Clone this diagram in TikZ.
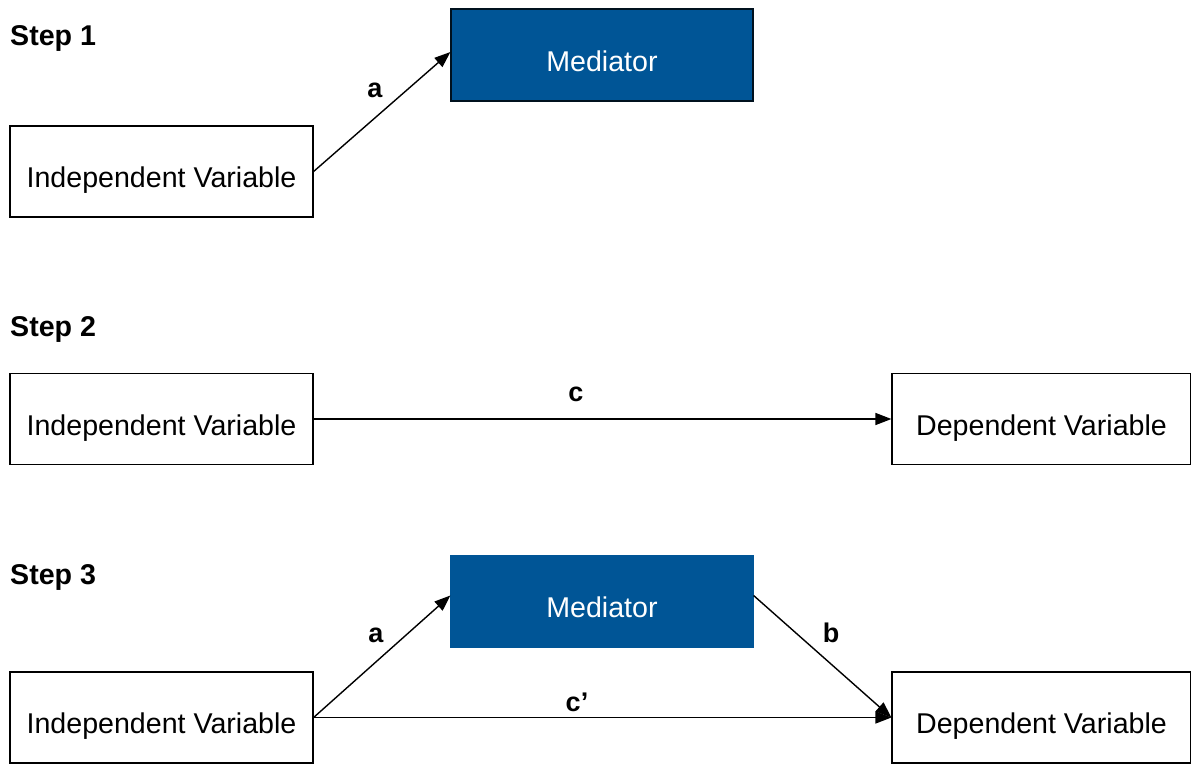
\documentclass[tikz,border=0pt]{standalone}
\usepackage{fontspec}
\setmainfont{Liberation Sans}
\usetikzlibrary{arrows.meta}
\definecolor{medblue}{RGB}{0,85,150}
\begin{document}
\begin{tikzpicture}[x=1pt,y=-1pt,
  varbox/.style={draw=black,line width=1.2pt,fill=white,minimum width=303pt,minimum height=91pt,inner sep=0pt,text height=32pt,text depth=0pt,font=\fontsize{28.6}{32}\selectfont},
  medbox/.style={draw=black!80!medblue,line width=1.2pt,fill=medblue,text=white,minimum width=302pt,minimum height=92pt,inner sep=0pt,text height=32pt,text depth=0pt,font=\fontsize{28.6}{32}\selectfont},
  steplabel/.style={font=\bfseries\fontsize{28.6}{32}\selectfont,anchor=base west,inner sep=0pt},
  pathlabel/.style={font=\bfseries\fontsize{27}{30}\selectfont,inner sep=0pt,anchor=base},
  conn/.style={line width=1.4pt,-{Triangle[length=16pt,width=12pt]}}]
\useasboundingbox[fill=white] (0,0) rectangle (1191,763);

% Step 1
\node[steplabel] (s1) at (10,45) {Step 1};
\node[medbox] (med1) at (602,55) {Mediator};
\node[varbox] (iv1) at (161.5,171.5) {Independent Variable};
\draw[conn] (iv1.east) -- ([yshift=3pt]med1.west);
\node[pathlabel] (la1) at (375,97) {a};

% Step 2
\node[steplabel] (s2) at (10,336) {Step 2};
\node[varbox] (iv2) at (161.5,419) {Independent Variable};
\node[varbox,minimum width=299pt] (dv2) at (1041.5,419) {Dependent Variable};
\draw[conn] (iv2.east) -- (dv2.west);
\node[pathlabel] (lc) at (576,401.5) {c};

% Step 3
\node[steplabel] (s3) at (10,584) {Step 3};
\node[medbox,draw=medblue] (med3) at (602,601.5) {Mediator};
\node[varbox] (iv3) at (161.5,717.5) {Independent Variable};
\node[varbox,minimum width=299pt] (dv3) at (1041.5,717.5) {Dependent Variable};
\draw[conn] (iv3.east) -- ([yshift=6pt]med3.west);
\draw[conn] ([yshift=6pt]med3.east) -- (dv3.west);
\draw[conn] (iv3.east) -- (dv3.west);
\node[pathlabel] (la3) at (376,642.5) {a};
\node[pathlabel] (lb) at (831,642.5) {b};
\node[pathlabel] (lcp) at (577,711) {c’};
\end{tikzpicture}
\end{document}
